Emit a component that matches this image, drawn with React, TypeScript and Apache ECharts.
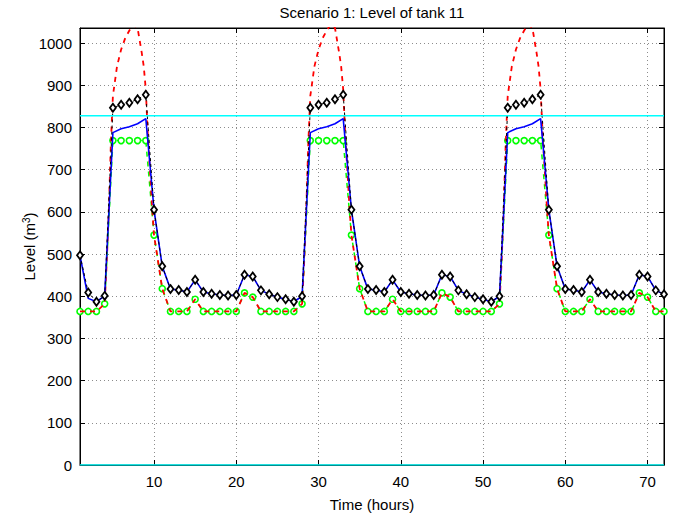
import React, { useEffect, useRef } from "react";
import * as echarts from "echarts";

// Time axis (hours)
const hours: number[] = Array.from({ length: 72 }, (_, i) => i + 1);

// Black diamonds (upper level trajectory)
const upperLevel = [
  497, 409, 387, 401, 847, 854, 859, 867, 878, 605, 471, 417, 415, 410, 439, 410, 406, 403, 402, 403, 451, 447, 414, 405,
  398, 393, 387, 400, 847, 854, 859, 867, 878, 605, 471, 417, 415, 410, 439, 410, 406, 403, 402, 403, 451, 447, 414, 405,
  398, 393, 387, 400, 847, 854, 859, 867, 878, 605, 471, 417, 415, 410, 439, 410, 406, 403, 402, 403, 451, 447, 414, 405,
];

// Blue solid line
const plannedLevel = [
  497, 395, 387, 401, 788, 797, 802, 809, 821, 605, 471, 417, 415, 410, 439, 410, 406, 403, 402, 403, 451, 447, 414, 405,
  398, 393, 387, 400, 788, 797, 802, 809, 821, 605, 471, 417, 415, 410, 439, 410, 406, 403, 402, 403, 451, 447, 414, 405,
  398, 393, 387, 400, 788, 797, 802, 809, 821, 605, 471, 417, 415, 410, 439, 410, 406, 403, 402, 403, 451, 447, 414, 405,
];

// Green circles (lower level trajectory)
const lowerLevel = [
  364, 364, 364, 382, 769, 769, 769, 769, 769, 545, 418, 364, 364, 364, 393, 364, 364, 364, 364, 364, 408, 398, 364, 364,
  364, 364, 364, 382, 769, 769, 769, 769, 769, 545, 418, 364, 364, 364, 393, 364, 364, 364, 364, 364, 408, 398, 364, 364,
  364, 364, 364, 382, 769, 769, 769, 769, 769, 545, 418, 364, 364, 364, 393, 364, 364, 364, 364, 364, 408, 398, 364, 364,
];

// Red dashed simulated level: within the filling periods it is sampled finer (hour of day)
const redPeakHours = [4.25, 4.5, 4.75, 5, 5.5, 6, 6.5, 7, 7.5, 8, 8.5, 8.75, 9, 9.25, 9.5, 9.75];
const redPeakLevels = [480, 600, 760, 875, 945, 985, 1012, 1030, 1045, 1036, 978, 945, 890, 780, 700, 615];
const peakDayStarts = [0, 24, 48];
const peakHoursOfDay = [5, 6, 7, 8, 9];

// Tank limits (cyan)
const maxLevel = 828;
const minLevel = 0;

const xTicks = [10, 20, 30, 40, 50, 60, 70];
const yTicks = [0, 100, 200, 300, 400, 500, 600, 700, 800, 900, 1000];

const FONT = "'Liberation Sans', Arial, Helvetica, sans-serif";

function buildRed(): number[][] {
  const pts: number[][] = [];
  hours.forEach((t, i) => {
    const h = ((t - 1) % 24) + 1;
    if (peakHoursOfDay.indexOf(h) < 0) pts.push([t, lowerLevel[i]]);
  });
  peakDayStarts.forEach((d) => {
    redPeakHours.forEach((h, j) => pts.push([d + h, redPeakLevels[j]]));
  });
  pts.sort((a, b) => a[0] - b[0]);
  return pts;
}

export default function App() {
  const ref = useRef<HTMLDivElement>(null);
  useEffect(() => {
    document.body.style.margin = "0";
    if (!ref.current) return;
    const chart = echarts.init(ref.current, undefined, { renderer: "svg" });
    const pair = (arr: number[]) => hours.map((t, i) => [t, arr[i]]);
    const gridLine = { show: true, lineStyle: { color: "#8c8c8c", type: [1, 3] as any, width: 1 } };
    const tickStyle = { show: true, inside: true, length: 5, lineStyle: { color: "#000", width: 1 } };
    const plain = (v: number) => String(v);
    chart.setOption({
      animation: false,
      textStyle: { fontFamily: FONT },
      grid: { left: 80, top: 28, right: 12, bottom: 56, show: true, borderColor: "#000", borderWidth: 1, backgroundColor: "#fff" },
      graphic: [
        {
          type: "text",
          x: 372,
          y: 12,
          style: { text: "Scenario 1: Level of tank 11", textAlign: "center", textVerticalAlign: "middle", fontSize: 15, fontFamily: FONT, fill: "#000" },
        },
      ],
      xAxis: [
        {
          type: "value",
          min: 1,
          max: 72,
          position: "bottom",
          axisLine: { show: true, onZero: false, lineStyle: { color: "#000", width: 1 } },
          axisTick: { ...tickStyle, customValues: xTicks },
          axisLabel: { customValues: xTicks, formatter: plain, color: "#000", fontSize: 15, margin: 9, fontFamily: FONT },
          splitLine: gridLine,
          name: "Time (hours)",
          nameLocation: "middle",
          nameGap: 32,
          nameMoveOverlap: false,
          nameTextStyle: { color: "#000", fontSize: 15, fontFamily: FONT },
        },
        {
          type: "value",
          min: 1,
          max: 72,
          position: "top",
          axisLine: { show: true, onZero: false, lineStyle: { color: "#000", width: 1 } },
          axisTick: { ...tickStyle, customValues: xTicks },
          axisLabel: { show: false },
          splitLine: { show: false },
        },
      ],
      yAxis: [
        {
          type: "value",
          min: 0,
          max: 1036,
          position: "left",
          axisLine: { show: true, onZero: false, lineStyle: { color: "#000", width: 1 } },
          axisTick: { ...tickStyle, customValues: yTicks },
          axisLabel: { customValues: yTicks, formatter: plain, color: "#000", fontSize: 15, margin: 8, fontFamily: FONT },
          splitLine: gridLine,
          name: "Level (m{sup|3})",
          nameLocation: "middle",
          nameGap: 42,
          nameMoveOverlap: false,
          nameTextStyle: {
            color: "#000",
            fontSize: 15,
            fontFamily: FONT,
            rich: { sup: { fontSize: 10, fontFamily: FONT, color: "#000", verticalAlign: "top", padding: [0, 0, 7, 0] } },
          },
        },
        {
          type: "value",
          min: 0,
          max: 1036,
          position: "right",
          axisLine: { show: true, onZero: false, lineStyle: { color: "#000", width: 1 } },
          axisTick: { ...tickStyle, customValues: yTicks },
          axisLabel: { show: false },
          splitLine: { show: false },
        },
      ],
      series: [
        {
          type: "line",
          name: "lower",
          data: pair(lowerLevel),
          symbol: "circle",
          symbolSize: 6,
          showSymbol: true,
          itemStyle: { color: "#fff", borderColor: "#00ff00", borderWidth: 1.6 },
          lineStyle: { color: "#00ff00", width: 1.5, type: [5, 5] as any, dashOffset: 5 },
          silent: true,
          z: 2,
        },
        {
          type: "line",
          name: "simulated",
          data: buildRed(),
          showSymbol: false,
          symbol: "none",
          lineStyle: { color: "#ff0000", width: 1.8, type: [5, 5] as any },
          silent: true,
          z: 3,
        },
        {
          type: "line",
          name: "planned",
          data: pair(plannedLevel),
          showSymbol: false,
          symbol: "none",
          lineStyle: { color: "#0000ff", width: 1.6 },
          silent: true,
          z: 4,
        },
        {
          type: "line",
          name: "upper",
          data: pair(upperLevel),
          symbol: "diamond",
          symbolSize: [6, 8],
          showSymbol: true,
          itemStyle: { color: "#fff", borderColor: "#000", borderWidth: 1.8 },
          lineStyle: { color: "#000", width: 1, type: [3, 3] as any },
          silent: true,
          z: 5,
        },
        {
          type: "line",
          name: "max",
          data: [[1, maxLevel], [72, maxLevel]],
          showSymbol: false,
          symbol: "none",
          lineStyle: { color: "#00ffff", width: 1.5 },
          silent: true,
          z: 6,
        },
        {
          type: "line",
          name: "min",
          data: [[1, minLevel], [72, minLevel]],
          showSymbol: false,
          symbol: "none",
          lineStyle: { color: "#00ffff", width: 1.5 },
          silent: true,
          z: 6,
        },
      ],
    });
    return () => chart.dispose();
  }, []);
  return <div ref={ref} style={{ width: 676, height: 521 }} />;
}
